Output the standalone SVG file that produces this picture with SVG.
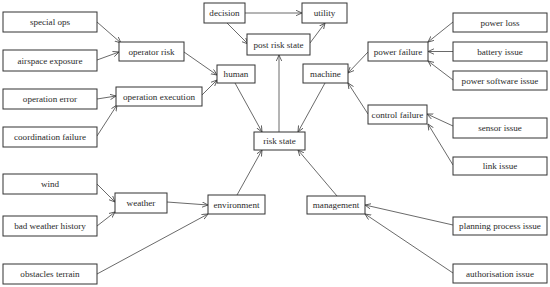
<svg xmlns="http://www.w3.org/2000/svg" width="550" height="287" viewBox="0 0 550 287">
<style>
.n rect{fill:#fff;stroke:#333;stroke-width:1}
.n text{font-family:"Liberation Serif","Times New Roman",serif;font-size:9.1px;fill:#2a2a2a;text-anchor:middle;dominant-baseline:central}
.e line{stroke:#444;stroke-width:0.8;marker-end:url(#a)}
</style>
<defs>
<marker id="a" markerUnits="userSpaceOnUse" markerWidth="8" markerHeight="8" refX="6" refY="3" orient="auto"><path d="M0,0.3 L6,3 L0,5.7" fill="none" stroke="#444" stroke-width="0.8"/></marker>
</defs>
<rect width="550" height="287" fill="#fff"/>
<g class="e">
<line x1="97" y1="22" x2="121" y2="43"/>
<line x1="97" y1="60" x2="119" y2="52"/>
<line x1="97" y1="99" x2="116" y2="96"/>
<line x1="97" y1="136" x2="117" y2="105"/>
<line x1="184" y1="52" x2="217" y2="75"/>
<line x1="202" y1="95" x2="217" y2="80"/>
<line x1="235" y1="83" x2="262" y2="132"/>
<line x1="245" y1="13" x2="302" y2="13"/>
<line x1="227" y1="23" x2="248" y2="44"/>
<line x1="310" y1="43" x2="325" y2="23"/>
<line x1="279" y1="132" x2="279" y2="55"/>
<line x1="325" y1="83" x2="298" y2="132"/>
<line x1="368" y1="52" x2="348" y2="73"/>
<line x1="368" y1="114" x2="348" y2="83"/>
<line x1="453" y1="22" x2="428" y2="42"/>
<line x1="453" y1="51.5" x2="428" y2="51.5"/>
<line x1="453" y1="80" x2="428" y2="61"/>
<line x1="453" y1="126" x2="427" y2="114"/>
<line x1="453" y1="165" x2="428" y2="124"/>
<line x1="337" y1="196" x2="298" y2="150"/>
<line x1="453" y1="225" x2="365" y2="205"/>
<line x1="453" y1="273" x2="365" y2="214"/>
<line x1="237" y1="195" x2="262" y2="150"/>
<line x1="167" y1="202" x2="208" y2="205"/>
<line x1="97" y1="274" x2="208" y2="214"/>
<line x1="97" y1="184" x2="115" y2="202"/>
<line x1="97" y1="226" x2="115" y2="212"/>
</g>
<g id="special_ops" class="n"><rect x="3" y="12" width="94" height="20"/><text x="50" y="22">special ops</text></g>
<g id="airspace_exposure" class="n"><rect x="3" y="50" width="94" height="21"/><text x="50" y="60.5">airspace exposure</text></g>
<g id="operation_error" class="n"><rect x="3" y="89" width="94" height="20"/><text x="50" y="99">operation error</text></g>
<g id="coordination_failure" class="n"><rect x="3" y="127" width="94" height="20"/><text x="50" y="137">coordination failure</text></g>
<g id="wind" class="n"><rect x="3" y="174" width="94" height="20"/><text x="50" y="184">wind</text></g>
<g id="bad_weather_history" class="n"><rect x="3" y="216" width="94" height="20"/><text x="50" y="226">bad weather history</text></g>
<g id="obstacles_terrain" class="n"><rect x="3" y="264" width="94" height="20"/><text x="50" y="274">obstacles terrain</text></g>
<g id="operator_risk" class="n"><rect x="119" y="42" width="65" height="19"/><text x="151.5" y="51.5">operator risk</text></g>
<g id="operation_execution" class="n"><rect x="116" y="87" width="86" height="19"/><text x="159" y="96.5">operation execution</text></g>
<g id="human" class="n"><rect x="217" y="65" width="38" height="18"/><text x="236" y="74">human</text></g>
<g id="decision" class="n"><rect x="204" y="3" width="41" height="20"/><text x="224.5" y="13">decision</text></g>
<g id="utility" class="n"><rect x="302" y="3" width="45" height="20"/><text x="324.5" y="13">utility</text></g>
<g id="post_risk_state" class="n"><rect x="247" y="34" width="63" height="21"/><text x="278.5" y="44.5">post risk state</text></g>
<g id="risk_state" class="n"><rect x="254" y="132" width="51" height="18"/><text x="279.5" y="141">risk state</text></g>
<g id="machine" class="n"><rect x="303" y="64" width="45" height="19"/><text x="325.5" y="73.5">machine</text></g>
<g id="power_failure" class="n"><rect x="368" y="42" width="60" height="19"/><text x="398" y="51.5">power failure</text></g>
<g id="control_failure" class="n"><rect x="368" y="105" width="59" height="19"/><text x="397.5" y="114.5">control failure</text></g>
<g id="power_loss" class="n"><rect x="453" y="13" width="94" height="19"/><text x="500" y="22.5">power loss</text></g>
<g id="battery_issue" class="n"><rect x="453" y="42" width="94" height="19"/><text x="500" y="51.5">battery issue</text></g>
<g id="power_software_issue" class="n"><rect x="453" y="71" width="94" height="19"/><text x="500" y="80.5">power software issue</text></g>
<g id="sensor_issue" class="n"><rect x="453" y="118" width="94" height="20"/><text x="500" y="128">sensor issue</text></g>
<g id="link_issue" class="n"><rect x="453" y="157" width="94" height="18"/><text x="500" y="166">link issue</text></g>
<g id="weather" class="n"><rect x="115" y="193" width="52" height="20"/><text x="141" y="203">weather</text></g>
<g id="environment" class="n"><rect x="208" y="195" width="57" height="19"/><text x="236.5" y="204.5">environment</text></g>
<g id="management" class="n"><rect x="307" y="196" width="58" height="18"/><text x="336" y="205">management</text></g>
<g id="planning_process_issue" class="n"><rect x="453" y="217" width="94" height="18"/><text x="500" y="226">planning process issue</text></g>
<g id="authorisation_issue" class="n"><rect x="453" y="264" width="94" height="19"/><text x="500" y="273.5">authorisation issue</text></g>
</svg>
